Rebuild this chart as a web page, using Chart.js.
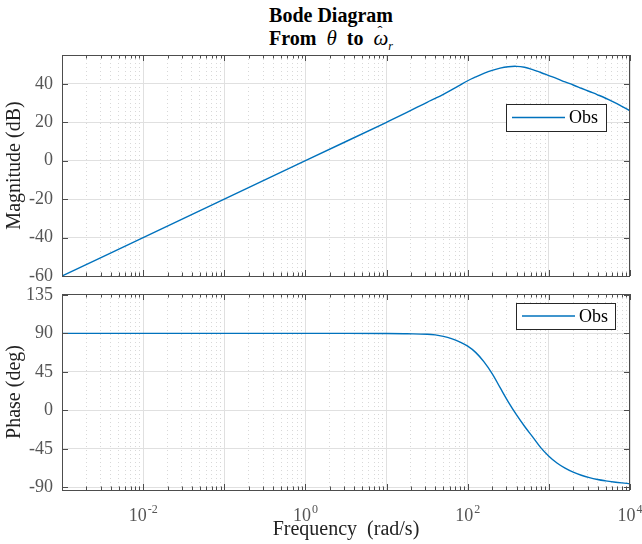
<!DOCTYPE html>
<html>
<head>
<meta charset="utf-8">
<script src="https://cdn.jsdelivr.net/npm/chart.js@4.4.1/dist/chart.umd.min.js"></script>
<style>
  body { margin: 0; background: #fff; }
  #wrap { position: relative; width: 642px; height: 544px; }
  #title { position: absolute; left: 0; top: 4px; width: 662px; text-align: center;
    font: bold 20px "Liberation Serif", "Times New Roman", serif; line-height: 23px; color: #000; }
  #title i { font-weight: normal; font-size: 21px; }
  #title .hat { position: relative; display: inline-block; line-height: 23px; }
  #title .hat b { position: absolute; left: 4px; top: -3px; font-weight: normal; font-size: 15px; font-style: normal; line-height: 15px; }
  #title sub { font-weight: normal; font-style: italic; font-size: 12px; }
  .box { position: absolute; left: 0; width: 642px; }
</style>
</head>
<body>
<div id="wrap">
  <div id="title">Bode Diagram<br>From&nbsp; <i>θ</i> &nbsp;to&nbsp; <i class="hat">ω<b>ˆ</b></i><sub>r</sub></div>
  <div class="box" style="top:0;height:290px"><canvas id="mag"></canvas></div>
  <div class="box" style="top:270px;height:274px"><canvas id="phase"></canvas></div>
</div>
<script>
// data (rad/s, dB, deg)
const freq  = [0.001, 0.01, 0.1, 1, 10, 17.8, 31.6, 39.8, 50.1, 63.1, 79.4, 100, 126, 158, 200, 251, 316, 398, 501, 631, 794,
               1000, 1259, 1585, 1995, 2512, 3162, 3981, 5012, 6310, 7943, 10000]
const mag   = [-60, -40, -20, 0, 20, 25.1, 30.4, 32.4, 34.5, 36.8, 39.2, 41.6, 43.6, 45.4, 47.0, 48.2, 48.9, 49.1, 48.6, 47.4, 45.9,
               44.3, 42.7, 41.0, 39.4, 37.7, 36.0, 34.3, 32.5, 30.5, 28.3, 26.0]
const phase = [90, 90, 90, 90, 89.8, 89.5, 89, 88.2, 86.5, 83.8, 80, 75, 67.5, 57, 43, 26.5, 10, -5, -18.5, -31, -43.5,
               -53.5, -61.5, -67.5, -72.2, -75.8, -78.6, -80.7, -82.3, -83.6, -84.7, -85.6]

const magTicks = [-60, -40, -20, 0, 20, 40]
const phaseTicks = [-90, -45, 0, 45, 90, 135]
const decades = [-3, -2, -1, 0, 1, 2, 3, 4]
const xLabelExps = [-2, 0, 2, 4]
const seriesName = 'Obs'

const serif = '"Liberation Serif", "Times New Roman", serif'
const lineColor = '#0072BD'

// log x ticks: 1..9 per decade
const xTicks = []
decades.forEach(e => {
  if (e === 4) { xTicks.push({ value: 1e4, decade: true }); return }
  for (let k = 1; k <= 9; k++) xTicks.push({ value: k * Math.pow(10, e), decade: k === 1 })
})

const boxPlugin = {
  id: 'boxTicks',
  afterDatasetsDraw(chart) {
    const a = chart.chartArea
    const c = chart.ctx
    c.save()
    c.strokeStyle = '#4d4d4d'
    c.lineWidth = 1
    c.strokeRect(Math.round(a.left) + 0.5, Math.round(a.top) + 0.5, Math.round(a.right - a.left) - 1, Math.round(a.bottom - a.top))
    c.beginPath()
    chart.scales.x.ticks.forEach(t => {
      const x = Math.round(chart.scales.x.getPixelForValue(t.value)) + 0.5
      const len = t.decade ? 6 : 3.5
      c.moveTo(x, a.top); c.lineTo(x, a.top + len)
      c.moveTo(x, a.bottom); c.lineTo(x, a.bottom - len)
    })
    chart.scales.y.ticks.forEach(t => {
      const y = Math.round(chart.scales.y.getPixelForValue(t.value)) + 0.5
      c.moveTo(a.left, y); c.lineTo(a.left + 6, y)
      c.moveTo(a.right, y); c.lineTo(a.right - 6, y)
    })
    c.stroke()
    c.restore()
  },
  afterDraw(chart, args, opts) {
    // legend box
    const c = chart.ctx
    const b = opts.legend
    const ds = chart.data.datasets[0]
    c.save()
    c.fillStyle = '#fff'
    c.fillRect(b.x, b.y, b.w, b.h)
    c.strokeStyle = '#262626'
    c.lineWidth = 1
    c.strokeRect(b.x + 0.5, b.y + 0.5, b.w, b.h)
    const my = b.y + b.h / 2
    c.strokeStyle = ds.borderColor
    c.lineWidth = 1.4
    c.beginPath(); c.moveTo(b.x + 6, my); c.lineTo(b.x + 59, my); c.stroke()
    c.fillStyle = '#000'
    c.font = '18px ' + serif
    c.textBaseline = 'middle'
    c.fillText(ds.label, b.x + 63, my + 1)
    c.restore()
    // decade labels 10^n
    if (opts.xLabels) {
      const xs = chart.scales.x
      c.save()
      c.fillStyle = '#555'
      c.textBaseline = 'alphabetic'
      xLabelExps.forEach(e => {
        const x = xs.getPixelForValue(Math.pow(10, e))
        const base = '10', sup = e < 0 ? '-' + (-e) : String(e)
        c.font = '18px ' + serif
        const w1 = c.measureText(base).width
        c.font = '12px ' + serif
        const w2 = c.measureText(sup).width
        const x0 = x - (w1 + w2 + 1) / 2
        c.font = '18px ' + serif
        c.fillText(base, x0, 251)
        c.font = '12px ' + serif
        c.fillText(sup, x0 + w1 + 1, 243)
      })
      c.restore()
    }
  }
}

function xScale(height) {
  return {
    type: 'logarithmic',
    min: 0.001, max: 10000,
    afterBuildTicks: s => { s.ticks = xTicks.map(t => ({ ...t })) },
    afterFit: s => { s.height = height },
    ticks: { display: false },
    grid: {
      drawTicks: false,
      color: ctx => (ctx.tick && ctx.tick.decade) ? '#e0e0e0' : '#d8d8d8',
      lineWidth: 1
    },
    border: { display: false, dash: ctx => (ctx.tick && !ctx.tick.decade) ? [1, 3] : [] }
  }
}

function yScale(min, max, ticks, label) {
  return {
    min: min, max: max,
    afterBuildTicks: s => { s.ticks = ticks.map(v => ({ value: v })) },
    afterFit: s => { s.width = 62; s.paddingTop = 0; s.paddingBottom = 0 },
    ticks: { autoSkip: false, padding: 9, color: '#555', font: { family: serif, size: 18 } },
    grid: { drawTicks: false, color: '#e0e0e0' },
    border: { display: false },
    title: { display: true, text: label, color: '#222', font: { family: serif, size: 20 }, padding: { top: 3, bottom: 0 } }
  }
}

function dataset(values) {
  return {
    label: seriesName,
    data: freq.map((f, i) => ({ x: f, y: values[i] })),
    borderColor: lineColor,
    borderWidth: 1.4,
    pointRadius: 0,
    fill: false,
    tension: 0.4
  }
}

const ctxMag = document.getElementById('mag')
if (ctxMag) {
  new Chart(ctxMag, {
    type: 'line',
    data: { datasets: [dataset(mag)] },
    options: {
      responsive: true,
      maintainAspectRatio: false,
      animation: false,
      layout: { padding: { top: 55, right: 12, bottom: 14, left: 0 } },
      scales: { x: xScale(0), y: yScale(-60, 55, magTicks, 'Magnitude (dB)') },
      plugins: {
        legend: { display: false },
        tooltip: { enabled: false },
        boxTicks: { legend: { x: 506, y: 104, w: 100, h: 27 }, xLabels: false }
      }
    },
    plugins: [boxPlugin]
  })
}

const ctxPhase = document.getElementById('phase')
if (ctxPhase) {
  const xs = xScale(54)
  xs.title = { display: true, text: 'Frequency  (rad/s)', color: '#222', font: { family: serif, size: 20 }, padding: { top: 0, bottom: 2 } }
  new Chart(ctxPhase, {
    type: 'line',
    data: { datasets: [dataset(phase)] },
    options: {
      responsive: true,
      maintainAspectRatio: false,
      animation: false,
      layout: { padding: { top: 24, right: 12, bottom: 0, left: 0 } },
      scales: { x: xs, y: yScale(-93, 136, phaseTicks, 'Phase (deg)') },
      plugins: {
        legend: { display: false },
        tooltip: { enabled: false },
        boxTicks: { legend: { x: 516, y: 33, w: 99, h: 26 }, xLabels: true }
      }
    },
    plugins: [boxPlugin]
  })
}
</script>
</body>
</html>
